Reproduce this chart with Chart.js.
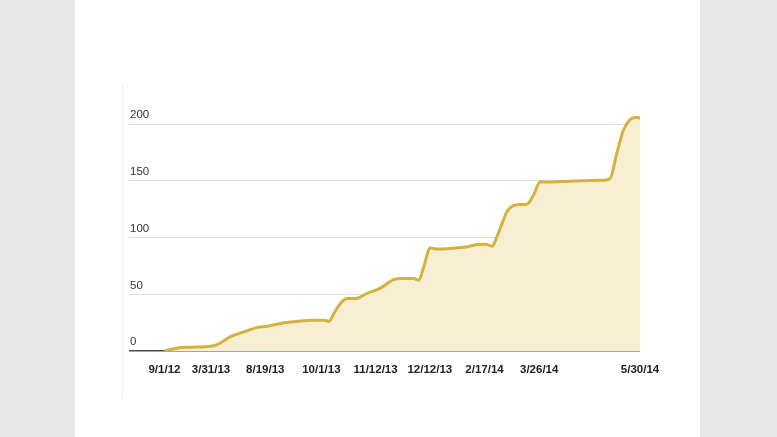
<!DOCTYPE html>
<html>
<head>
<meta charset="utf-8">
<script src="https://cdn.jsdelivr.net/npm/chart.js@4"></script>
<style>
  html, body { margin: 0; padding: 0; }
  body { width: 777px; height: 437px; background: #e8e8e8; position: relative; overflow: hidden; }
  #panel { position: absolute; left: 75px; top: 0; width: 625px; height: 437px; background: #fff; }
  #frame { position: absolute; left: 122px; top: 83px; width: 1px; height: 315px; background: #f1f1f1; }
  #chart { position: absolute; left: 0; top: 0; }
</style>
</head>
<body>
<div id="panel"></div>
<div id="frame"></div>
<canvas id="chart" width="777" height="437"></canvas>
<script>
// --- Datos (posición relativa en el eje x, 0 = 9/1/12, 100 = 5/30/14) ---
const xPos = [0, 2.8, 5.6, 9.8, 11.2, 14, 16.7, 19.6, 21.7, 25.1, 28.6, 31.4, 33.5, 34.6,
  35.6, 37, 38.4, 40.2, 42.6, 45.4, 48.2, 49.6, 52.4, 53.5, 54.5, 55.9, 57.3, 60.1, 63.6,
  65.7, 67.5, 68.9, 69.9, 71, 72, 74.1, 76.2, 77.6, 79, 81.1, 85.3, 92.3, 93.7, 95.1,
  96.5, 97.9, 99, 100];
const values = [0, 2.9, 3.5, 4.4, 6, 13, 17, 21, 22, 25, 26.7, 27.3, 27.3, 26.4,
  33, 42, 46.4, 46.4, 51, 55.5, 63, 64, 64, 62.6, 74, 91, 90, 90.5, 92,
  94, 94.3, 92.5, 100.7, 112.5, 122.7, 129, 129.5, 137.4, 149, 149, 149.8, 150.7, 152, 174,
  194.7, 204, 206, 205.5];

const tickLabels = ['9/1/12', '3/31/13', '8/19/13', '10/1/13', '11/12/13', '12/12/13', '2/17/14', '3/26/14', '5/30/14'];
const tickPos = [0, 9.8, 21.2, 33, 44.4, 55.8, 67.3, 78.8, 100];
const yTicks = [0, 50, 100, 150, 200];

const points = xPos.map((x, i) => ({ x, y: values[i] }));

const ctx = document.getElementById('chart').getContext('2d');
new Chart(ctx, {
  type: 'line',
  data: {
    datasets: [{
      data: points,
      borderColor: '#d4b23c',
      backgroundColor: '#f8eed3',
      borderWidth: 3,
      fill: 'origin',
      pointRadius: 0,
      cubicInterpolationMode: 'monotone'
    }]
  },
  options: {
    responsive: false,
    animation: false,
    layout: { padding: { left: 127, right: 137, top: 101.5, bottom: 48 } },
    plugins: { legend: { display: false }, tooltip: { enabled: false } },
    scales: {
      x: {
        type: 'linear',
        min: -7.45,
        max: 100,
        grid: { display: false, drawTicks: false },
        border: { display: false },
        afterBuildTicks: (s) => { s.ticks = tickPos.map(v => ({ value: v })); },
        ticks: {
          autoSkip: false,
          maxRotation: 0,
          padding: 12,
          color: '#222',
          font: { family: 'Liberation Sans', size: 11.5, weight: 'bold' },
          callback: (v) => {
            const i = tickPos.indexOf(v);
            return i >= 0 ? tickLabels[i] : '';
          }
        }
      },
      y: {
        min: 0,
        max: 220,
        grid: {
          drawTicks: false,
          color: (c) => c.tick && c.tick.value === 0 ? '#4a4a4a' : '#dedede',
          lineWidth: (c) => c.tick && c.tick.value === 0 ? 1.6 : 1
        },
        border: { display: false },
        afterBuildTicks: (s) => { s.ticks = yTicks.map(v => ({ value: v })); },
        ticks: {
          mirror: true,
          padding: 1,
          labelOffset: -9,
          color: '#333',
          font: { family: 'Liberation Sans', size: 11.5 }
        }
      }
    }
  }
});
</script>
</body>
</html>
